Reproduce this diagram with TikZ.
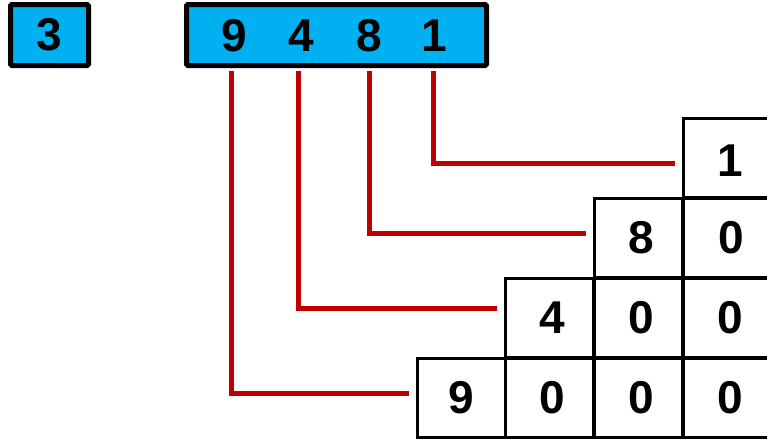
\documentclass[tikz,border=0pt]{standalone}
\usepackage{fontspec}
\setmainfont{Liberation Sans}
\begin{document}
\begin{tikzpicture}[x=1pt,y=-1pt,
  digit/.style={font=\fontsize{46}{46}\selectfont\bfseries, inner sep=0pt},
  bluebox/.style={draw=black, line width=5pt, fill=boxblue, rounded corners=1.5pt, inner sep=0pt},
  cell/.style={draw=black, line width=3pt, minimum width=88pt, minimum height=79pt, inner sep=0pt},
  link/.style={draw=linkred, line width=5pt, shorten >=7pt}
]
\definecolor{boxblue}{HTML}{00B0F0}
\definecolor{linkred}{HTML}{C00000}
\useasboundingbox (0,0) rectangle (767,439);
\node[bluebox, minimum width=78pt, minimum height=61pt] (three) at (49.5,35) {};
\node[digit] at (three) {3};
\node[bluebox, minimum width=300pt, minimum height=61pt] (num) at (336.5,35) {};
\node[digit] (d9) at (234,36) {9};
\node[digit] (d4) at (301,36) {4};
\node[digit] (d8) at (369,36) {8};
\node[digit] (d1) at (434,36) {1};
% grid
\node[cell] (r1c3) at (727.5,157.5) {};
\node[cell] (r2c2) at (638.5,238) {};
\node[cell] (r2c3) at (727.5,238) {};
\node[cell] (r3c1) at (549.5,318) {};
\node[cell] (r3c2) at (638.5,318) {};
\node[cell] (r3c3) at (727.5,318) {};
\node[cell] (r4c0) at (461,397.5) {};
\node[cell] (r4c1) at (549.5,397.5) {};
\node[cell] (r4c2) at (638.5,397.5) {};
\node[cell] (r4c3) at (727.5,397.5) {};
\node[digit] at ([xshift=3pt,yshift=-3pt]r1c3) {1};
\node[digit] at ([xshift=3pt]r2c2) {8};
\node[digit] at ([xshift=4pt]r2c3) {0};
\node[digit] at ([xshift=3pt]r3c1) {4};
\node[digit] at ([xshift=3pt]r3c2) {0};
\node[digit] at ([xshift=3pt]r3c3) {0};
\node[digit] at (r4c0) {9};
\node[digit] at ([xshift=3pt]r4c1) {0};
\node[digit] at ([xshift=3pt]r4c2) {0};
\node[digit] at ([xshift=3pt]r4c3) {0};
% links
\coordinate (s9) at ([xshift=-3pt,yshift=-3pt]d9 |- num.south);
\coordinate (s4) at ([xshift=-3pt,yshift=-3pt]d4 |- num.south);
\coordinate (s8) at ([yshift=-3pt]d8 |- num.south);
\coordinate (s1) at ([xshift=-1pt,yshift=-3pt]d1 |- num.south);
\draw[link] (s9) |- ([yshift=4.5pt]r4c0.west);
\draw[link] (s4) |- ([yshift=10pt]r3c1.west);
\draw[link] (s8) |- ([yshift=5pt]r2c2.west);
\draw[link] (s1) |- ([yshift=-5.5pt]r1c3.west);
\end{tikzpicture}
\end{document}
